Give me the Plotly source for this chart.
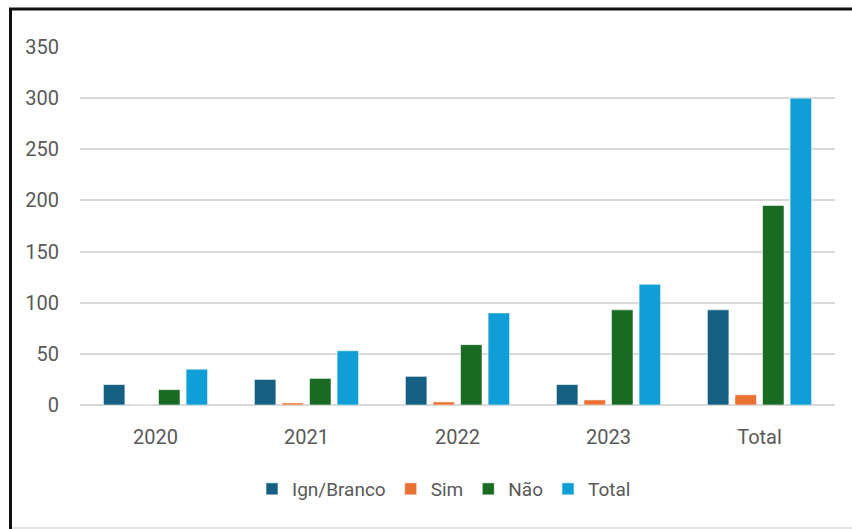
import plotly.graph_objects as go

# Categories and series
categories = ["2020", "2021", "2022", "2023", "Total"]
ign_branco = [20, 25, 28, 20, 93]
sim = [0, 2, 3, 5, 10]
nao = [15, 26, 59, 93, 195]
total = [35, 53, 90, 118, 300]

y_ticks = [0, 50, 100, 150, 200, 250, 300, 350]

series = [
    ("Ign/Branco", ign_branco, "#156082"),
    ("Sim", sim, "#E97132"),
    ("Não", nao, "#196B24"),
    ("Total", total, "#0F9ED5"),
]

FONT = "Liberation Sans Narrow, Arial Narrow, Roboto, sans-serif"

fig = go.Figure()
for name, vals, color in series:
    fig.add_trace(go.Bar(
        x=categories, y=vals, name=name,
        marker=dict(color=color, line=dict(color="rgba(255,255,255,0.55)", width=1)),
    ))

W, H = 852, 529
ml, mr, mt, mb = 80, 17, 47, 124
pw, ph = W - ml - mr, H - mt - mb

def px_x(x):
    return (x - ml) / pw

def px_y(y):
    return (H - mb - y) / ph

fig.update_layout(
    width=W, height=H,
    margin=dict(l=ml, r=mr, t=mt, b=mb),
    paper_bgcolor="white", plot_bgcolor="white",
    barmode="group", bargap=0.27, bargroupgap=0.22,
    font=dict(family=FONT, color="#595959", size=20),
    legend=dict(
        orientation="h", x=px_x(444), xanchor="center",
        y=px_y(489), yanchor="middle",
        font=dict(family=FONT, size=19, color="#595959"),
        itemwidth=30, tracegroupgap=0,
    ),
    showlegend=True,
    shapes=[
        # chart frame: left and top dark edges, light bottom edge
        dict(type="line", xref="paper", yref="paper",
             x0=px_x(10.5), x1=px_x(10.5), y0=px_y(529), y1=px_y(8.5),
             line=dict(color="#111111", width=3)),
        dict(type="line", xref="paper", yref="paper",
             x0=px_x(9), x1=px_x(853), y0=px_y(9), y1=px_y(9),
             line=dict(color="#111111", width=3)),
        dict(type="line", xref="paper", yref="paper",
             x0=px_x(12), x1=px_x(853), y0=px_y(528), y1=px_y(528),
             line=dict(color="#DDDDDD", width=1.5)),
    ],
)

fig.update_xaxes(
    type="category", showgrid=False, showline=False, zeroline=False,
    ticks="", tickfont=dict(size=20, color="#595959"),
    ticklabelstandoff=18,
)
fig.update_yaxes(
    range=[0, 350], tickvals=y_ticks, showgrid=True,
    gridcolor="#D9D9D9", gridwidth=1.6, zeroline=True,
    zerolinecolor="#D9D9D9", zerolinewidth=1.6, showline=False,
    ticks="", tickfont=dict(size=20, color="#595959"),
    ticklabelstandoff=20,
)

fig.write_html("out.html")
